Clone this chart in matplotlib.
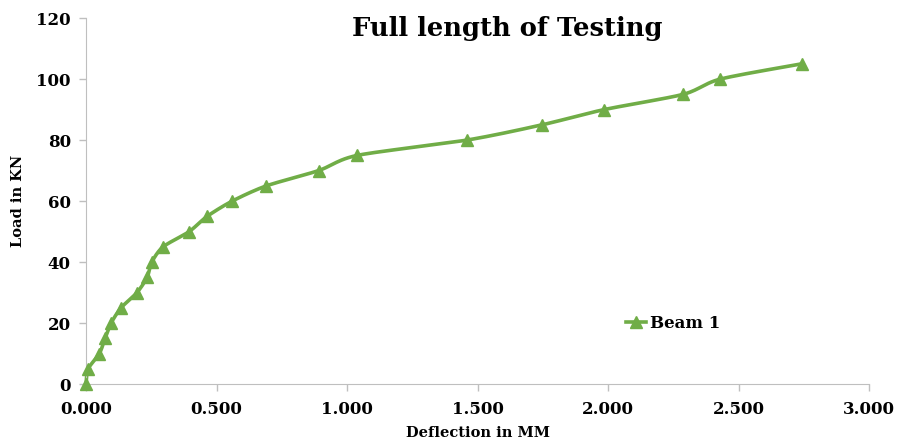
import numpy as np
import matplotlib
matplotlib.use("Agg")
import matplotlib.pyplot as plt

deflection = [0.000, 0.008, 0.051, 0.073, 0.096, 0.134, 0.195, 0.234, 0.252, 0.295,
              0.395, 0.464, 0.560, 0.691, 0.891, 1.040, 1.459, 1.747, 1.985, 2.288,
              2.430, 2.742]
load = [0, 5, 10, 15, 20, 25, 30, 35, 40, 45, 50, 55, 60, 65, 70, 75, 80, 85, 90, 95, 100, 105]
x_ticks = [0.0, 0.5, 1.0, 1.5, 2.0, 2.5, 3.0]
y_ticks = [0, 20, 40, 60, 80, 100, 120]
series_name = "Beam 1"
color = "#70AD47"


def catmull_rom(xs, ys, n=24):
    xs = np.asarray(xs, float)
    ys = np.asarray(ys, float)
    px = np.concatenate([[xs[0]], xs, [xs[-1]]])
    py = np.concatenate([[ys[0]], ys, [ys[-1]]])
    outx, outy = [], []
    for i in range(1, len(px) - 2):
        p0, p1, p2, p3 = (np.array([px[j], py[j]]) for j in (i - 1, i, i + 1, i + 2))
        m1 = 0.5 * (p2 - p0) * 0.8
        m2 = 0.5 * (p3 - p1) * 0.8
        t = np.linspace(0, 1, n, endpoint=False)[:, None]
        h00 = 2 * t**3 - 3 * t**2 + 1
        h10 = t**3 - 2 * t**2 + t
        h01 = -2 * t**3 + 3 * t**2
        h11 = t**3 - t**2
        pts = h00 * p1 + h10 * m1 + h01 * p2 + h11 * m2
        outx.extend(pts[:, 0]); outy.extend(pts[:, 1])
    outx.append(xs[-1]); outy.append(ys[-1])
    return np.array(outx), np.array(outy)


font = "DejaVu Serif"
fig = plt.figure(figsize=(9.01, 4.41), dpi=100)
ax = fig.add_axes([0.0955, 0.129, 0.869, 0.83])

sx, sy = catmull_rom(deflection, load)
ax.plot(sx, sy, color=color, lw=2.6, zorder=2, clip_on=False)
ax.plot(deflection, load, linestyle="none", marker="^", markersize=9,
        color=color, zorder=3, clip_on=False)
ax.plot([], [], color=color, lw=2.6, marker="^", markersize=9, label=series_name)

ax.set_xlim(0, 3.0)
ax.set_ylim(0, 120)
ax.set_xticks(x_ticks)
ax.set_yticks(y_ticks)
ax.set_xticklabels([f"{v:.3f}" for v in x_ticks])
ax.set_yticklabels([str(v) for v in y_ticks])
for lab in ax.get_xticklabels() + ax.get_yticklabels():
    lab.set_fontfamily(font)
    lab.set_fontweight("bold")
    lab.set_fontsize(12)
ax.tick_params(axis="both", colors="#BFBFBF", labelcolor="black", length=5, width=1)
ax.tick_params(axis="x", pad=7)
ax.tick_params(axis="y", pad=6)
for s in ("top", "right"):
    ax.spines[s].set_visible(False)
for s in ("left", "bottom"):
    ax.spines[s].set_color("#BFBFBF")

ax.set_xlabel("Deflection in MM", fontfamily=font, fontweight="bold", fontsize=10.5, labelpad=6)
ax.set_ylabel("Load in KN", fontfamily=font, fontweight="bold", fontsize=10.5, labelpad=8)
fig.text(0.563, 0.935, "Full length of Testing", fontfamily=font, fontweight="bold",
         fontsize=18.5, ha="center", va="center")

leg = ax.legend(loc="center left", bbox_to_anchor=(0.69, 0.165), frameon=False,
                prop={"family": font, "weight": "bold", "size": 12},
                handlelength=1.2, handletextpad=0.2, borderaxespad=0, borderpad=0)

fig.savefig("out.png", dpi=100)
